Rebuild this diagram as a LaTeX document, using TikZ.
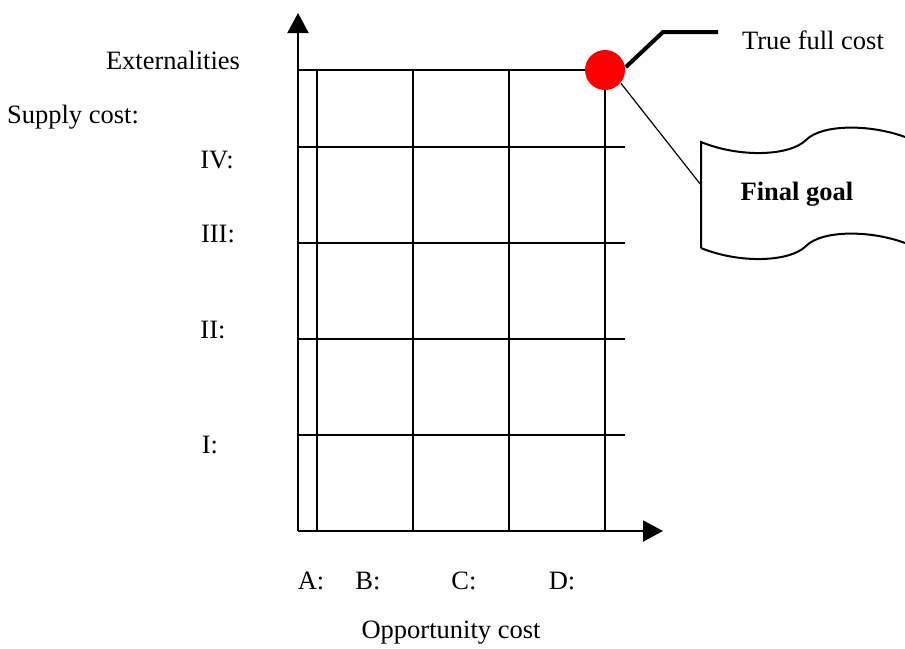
\documentclass[tikz,border=0pt]{standalone}
\usepackage{fontspec}
\setmainfont{Liberation Serif}
\usetikzlibrary{arrows.meta}

\begin{document}
\begin{tikzpicture}[x=1pt, y=-1pt, line width=2.0pt, line join=miter,
  lbl/.style={anchor=center, inner sep=0pt, font=\fontsize{26.5}{31}\selectfont},
  axis/.style={line width=2.0pt, -{Triangle[length=20pt,width=21pt]}},
  grid/.style={line width=2.0pt}]

  % 钉死画布
  \useasboundingbox (0,0) rectangle (905,648);

  %% ════ 坐标轴 ════
  \draw[axis] (298,531) -- (298,13);
  \draw[axis] (298,531) -- (663,531);

  %% ════ 网格：竖线 ════
  \draw[grid] (317,70) -- (317,531);
  \draw[grid] (413,70) -- (413,531);
  \draw[grid] (509,70) -- (509,531);
  \draw[grid] (605,70) -- (605,531);

  %% ════ 网格：横线 ════
  \draw[grid] (298,70) -- (605,70);
  \draw[grid] (298,147) -- (625,147);
  \draw[grid] (298,243) -- (625,243);
  \draw[grid] (298,339) -- (625,339);
  \draw[grid] (298,435) -- (625,435);

  %% ════ 红点 + 引线 ════
  \node[circle, fill=red, minimum size=40pt, inner sep=0pt] (dot) at (605,70) {};
  \coordinate (tfcend) at (718,32);
  \draw[line width=4.0pt, line cap=butt] (dot.8) -- (663,32) -- (tfcend);

  %% ════ 波浪框（Final goal）════
  \draw[line width=2.0pt]
    (701,248) -- (701,142)
    .. controls (740,158) and (790,156) .. (806,140)
    .. controls (822,124) and (870,124) .. (905,137);
  \draw[line width=2.0pt]
    (701,248)
    .. controls (740,264) and (790,262) .. (806,246)
    .. controls (822,230) and (870,230) .. (905,243);
  \coordinate (goalin) at (701,185);
  \draw[line width=1.2pt] (dot.-40) -- (goalin);

  %% ════ 标签 ════
  \node[lbl] (ext) at (173,60) {Externalities};
  \node[lbl] (supply) at (73,117) {Supply cost:};
  \node[lbl] (lvIV) at (217,160) {IV:};
  \node[lbl] (lvIII) at (218,234) {III:};
  \node[lbl] (lvII) at (213,330) {II:};
  \node[lbl] (lvI) at (210,445) {I:};
  \node[lbl] (colA) at (311,581) {A:};
  \node[lbl] (colB) at (368,581) {B:};
  \node[lbl] (colC) at (464,581) {C:};
  \node[lbl] (colD) at (562,581) {D:};
  \node[lbl] (opp) at (451,633) {Opportunity cost};
  \node[lbl] (tfc) at (813,40) {True full cost};
  \node[lbl] (goal) at (797,194) {\textbf{Final goal}};
\end{tikzpicture}
\end{document}
